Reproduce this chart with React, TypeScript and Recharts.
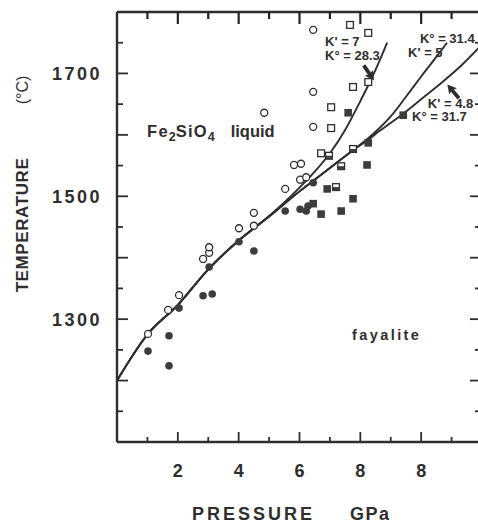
import React from 'react';
import { ComposedChart, XAxis, YAxis, Line, Scatter, ReferenceDot, ReferenceLine, Label } from 'recharts';

const INK = '#2e2e2e';
const FONT = '"Liberation Sans", Arial, Helvetica, sans-serif';

// Melting curves of Fe2SiO4: pressure (GPa) and temperature (°C)
const curveK7P = [0, 1, 2, 3, 4, 5, 5.5, 6, 6.5, 7, 7.5, 8, 8.4, 8.88];
const curveK7T = [1200, 1275, 1323, 1381, 1428, 1468, 1490, 1514, 1540, 1570, 1608, 1655, 1695, 1750];
const curveK5P = [0, 1, 2, 3, 4, 5, 6, 7, 7.76, 8.2, 8.65, 9.0, 9.5, 10.0, 10.5, 10.85];
const curveK5T = [1200, 1275, 1323, 1381, 1428, 1467, 1508, 1546, 1575, 1592, 1612, 1630, 1662, 1695, 1727, 1750];
const curveK48P = [0, 1, 2, 3, 4, 5, 6, 7, 7.76, 8.2, 8.65, 9.4, 10.0, 10.7, 11.3, 11.9];
const curveK48T = [1200, 1275, 1323, 1381, 1428, 1467, 1508, 1546, 1575, 1590, 1607, 1634, 1658, 1686, 1712, 1742];

// Experimental runs [P, T]
const liquidRuns = [
  [1.02, 1276], [1.68, 1315], [2.04, 1339], [2.83, 1398], [3.03, 1408], [3.03, 1417],
  [4.01, 1448], [4.5, 1473], [4.5, 1452], [5.53, 1512], [6.02, 1527], [6.22, 1531],
  [5.82, 1551], [6.05, 1553], [6.45, 1771], [6.45, 1670], [6.45, 1613], [4.84, 1636],
];
const solidRuns = [
  [1.02, 1248], [1.71, 1273], [1.71, 1224], [2.04, 1318], [2.83, 1338], [3.13, 1341],
  [3.03, 1385], [4.01, 1426], [4.5, 1411], [5.53, 1476], [6.02, 1479], [6.22, 1476],
  [6.28, 1484], [6.45, 1522],
];
const liquidSquareRuns = [
  [7.66, 1779], [8.26, 1766], [8.26, 1686], [7.76, 1678], [7.04, 1645], [7.04, 1611], [6.71, 1570],
];
const solidSquareRuns = [
  [7.6, 1636], [9.41, 1632], [8.26, 1587], [8.22, 1551], [6.91, 1512], [7.76, 1496],
  [6.71, 1471], [7.37, 1476], [6.45, 1488],
];
const partialSquareRuns = [[6.97, 1566], [7.76, 1577], [7.37, 1549], [7.2, 1515]];

// Axis ticks and labels
const xTicks = [0, 1, 2, 3, 4, 5, 6, 7, 8, 9, 10, 11, 12];
const xLabelValues = [2, 4, 6, 8, 10];
const xTickLabels = ['2', '4', '6', '8', '8'];
const yTicks = [1100, 1150, 1200, 1250, 1300, 1350, 1400, 1450, 1500, 1550, 1600, 1650, 1700, 1750, 1800];
const yLabelValues = [1300, 1500, 1700];
const yTickLabels = ['1300', '1500', '1700'];
const X_MIN = 0;
const X_MAX = 12;
const T_MIN = 1100;
const T_MAX = 1800;

// Curve annotations
const curveLabels = [
  { text: "K' = 7", P: 6.84, T: 1745 },
  { text: 'K° = 28.3', P: 6.84, T: 1722 },
  { text: 'K° = 31.4', P: 9.96, T: 1750 },
  { text: "K' = 5", P: 9.57, T: 1727 },
  { text: "K' = 4.8", P: 10.22, T: 1644 },
  { text: 'K° = 31.7', P: 9.7, T: 1622 },
];
const arrows = [
  { P: 8.45, T: 1689, angle: 55 },
  { P: 10.86, T: 1682, angle: 230 },
];

// Chart layout
const CHART_W = 500;
const CHART_H = 524;
const MARGIN = { top: 12, right: 17, bottom: 42, left: 57 };
const X_AXIS_H = 40;
const PLOT_H = CHART_H - MARGIN.top - MARGIN.bottom - X_AXIS_H;

const toPts = (P: number[], T: number[]) => P.map((p, i) => ({ P: p, T: T[i] }));
const toRuns = (rows: number[][]) => rows.map(([P, T]) => ({ P, T }));

const isMajorX = (v: number) => v % 2 === 0;
const isMajorY = (v: number) => v % 100 === 0;

// Bottom tick: inward tick on the bottom edge, its twin hanging from the top edge, and the label
const BottomTick = (props: any) => {
  const { x, y, payload } = props;
  const v = payload.value;
  if (v === X_MIN || v === X_MAX) return <g />;
  const i = xLabelValues.indexOf(v);
  const top = y - PLOT_H;
  return (
    <g>
      <line x1={x} x2={x} y1={y} y2={y - (isMajorX(v) ? 10 : 5)} stroke={INK} strokeWidth={1.8} />
      <path d={`M${x},${top} L${x},${top + (isMajorX(v) ? 12 : 7)}`} stroke="#222222" strokeWidth={2.2} fill="none" />
      {i >= 0 && (
        <text x={x} y={y + 35} textAnchor="middle" fontFamily={FONT} fontWeight="bold" fontSize={18} fill={INK}>
          {xTickLabels[i]}
        </text>
      )}
    </g>
  );
};

const LeftTick = (props: any) => {
  const { x, y, payload } = props;
  const v = payload.value;
  if (v === T_MIN || v === T_MAX) return <g />;
  const i = yLabelValues.indexOf(v);
  return (
    <g>
      <line x1={x} x2={x + (isMajorY(v) ? 11 : 6)} y1={y} y2={y} stroke={INK} strokeWidth={1.8} />
      {i >= 0 && (
        <text x={x - 15} y={y + 6.5} textAnchor="end" fontFamily={FONT} fontWeight="bold" fontSize={18}
          letterSpacing={2.5} fill={INK}>
          {yTickLabels[i]}
        </text>
      )}
    </g>
  );
};

const RightTick = (props: any) => {
  const { x, y, payload } = props;
  const v = payload.value;
  if (v === T_MIN || v === T_MAX) return <g />;
  return <line x1={x} x2={x - (isMajorY(v) ? 12 : 7)} y1={y} y2={y} stroke={INK} strokeWidth={1.8} />;
};

const XTitle = (props: any) => {
  const vb = props.viewBox || { x: 117, y: 442 };
  return (
    <g fontFamily={FONT} fontWeight="bold" fontSize={18} fill={INK}>
      <text x={vb.x + 75} y={vb.y + 78} letterSpacing={3}>PRESSURE</text>
      <text x={vb.x + 233} y={vb.y + 78} letterSpacing={1.5}>GPa</text>
    </g>
  );
};

const YTitle = (props: any) => {
  const vb = props.viewBox || { x: 57, y: 12 };
  const cx = vb.x - 35;
  return (
    <g fontFamily={FONT} fontWeight="bold" fontSize={17} fill={INK}>
      <text transform={`translate(${cx + 6}, ${vb.y + 213}) rotate(-90)`} textAnchor="middle" letterSpacing={0.6}>
        TEMPERATURE
      </text>
      <text transform={`translate(${cx + 6}, ${vb.y + 78}) rotate(-90)`} textAnchor="middle" fontWeight="normal" fontSize={16}>
        (°C)
      </text>
    </g>
  );
};

const openCircle = (p: any) => (
  <circle cx={p.cx} cy={p.cy} r={3.5} fill="#fff" stroke={INK} strokeWidth={1.3} />
);
const filledCircle = (p: any) => <circle cx={p.cx} cy={p.cy} r={3.8} fill="#3c3c3c" />;
const openSquare = (p: any) => (
  <rect x={p.cx - 3.4} y={p.cy - 3.4} width={6.8} height={6.8} fill="#fff" stroke={INK} strokeWidth={1.3} />
);
const filledSquare = (p: any) => <rect x={p.cx - 3.8} y={p.cy - 3.8} width={7.6} height={7.6} fill="#3c3c3c" />;
const partialSquare = (p: any) => (
  <g>
    <rect x={p.cx - 3.4} y={p.cy - 3.4} width={6.8} height={6.8} fill="#fff" stroke={INK} strokeWidth={1.3} />
    <rect x={p.cx - 3.4} y={p.cy} width={6.8} height={3.4} fill="#3c3c3c" />
  </g>
);

const arrowShape = (angle: number) => (p: any) => (
  <polygon
    transform={`translate(${p.cx}, ${p.cy}) rotate(${angle})`}
    points="0,0 -9,-5 -8,-1.9 -18,-1.9 -18,1.9 -8,1.9 -9,5"
    fill={INK}
  />
);

const textShape = (text: string) => (p: any) => (
  <text x={p.cx} y={p.cy} fontFamily={FONT} fontWeight="bold" fontSize={13} fill={INK}>
    {text}
  </text>
);

const liquidLabel = (p: any) => (
  <text x={p.cx} y={p.cy} fontFamily={FONT} fontWeight="bold" fontSize={16.5} fill={INK}>
    <tspan letterSpacing={1.2}>Fe</tspan>
    <tspan dy={4} fontSize={12.5}>2</tspan>
    <tspan dy={-4} letterSpacing={1.2}>SiO</tspan>
    <tspan dy={4} fontSize={12.5}>4</tspan>
    <tspan dy={-4} dx={16}>liquid</tspan>
  </text>
);

const solidLabel = (p: any) => (
  <text x={p.cx} y={p.cy} fontFamily={FONT} fontWeight="bold" fontSize={14.5} letterSpacing={2.4} fill={INK}>
    fayalite
  </text>
);

export default function App() {
  const lineProps = {
    xAxisId: 'b', yAxisId: 'l', type: 'monotone' as const, dataKey: 'T', stroke: INK,
    strokeWidth: 1.9, dot: false, activeDot: false, isAnimationActive: false,
  };
  return (
    <div style={{ position: 'absolute', left: 0, top: 0, width: 478, height: CHART_H, overflow: 'hidden', background: '#fff' }}>
      <ComposedChart width={CHART_W} height={CHART_H} margin={MARGIN}>
        {/* top edge of the frame */}
        <ReferenceLine xAxisId="b" yAxisId="l" y={T_MAX} stroke={INK} strokeWidth={2.4} />

        <Line {...lineProps} data={toPts(curveK7P, curveK7T)} />
        <Line {...lineProps} data={toPts(curveK5P, curveK5T)} />
        <Line {...lineProps} data={toPts(curveK48P, curveK48T)} />

        <Scatter xAxisId="b" yAxisId="l" data={toRuns(liquidRuns)} shape={openCircle} isAnimationActive={false} />
        <Scatter xAxisId="b" yAxisId="l" data={toRuns(solidRuns)} shape={filledCircle} isAnimationActive={false} />
        <Scatter xAxisId="b" yAxisId="l" data={toRuns(liquidSquareRuns)} shape={openSquare} isAnimationActive={false} />
        <Scatter xAxisId="b" yAxisId="l" data={toRuns(solidSquareRuns)} shape={filledSquare} isAnimationActive={false} />
        <Scatter xAxisId="b" yAxisId="l" data={toRuns(partialSquareRuns)} shape={partialSquare} isAnimationActive={false} />

        {curveLabels.map((l) => (
          <ReferenceDot key={l.text} xAxisId="b" yAxisId="l" x={l.P} y={l.T} r={0} shape={textShape(l.text)} />
        ))}
        {arrows.map((a, i) => (
          <ReferenceDot key={`arrow-${i}`} xAxisId="b" yAxisId="l" x={a.P} y={a.T} r={0} shape={arrowShape(a.angle)} />
        ))}
        <ReferenceDot xAxisId="b" yAxisId="l" x={0.99} y={1596} r={0} shape={liquidLabel} />
        <ReferenceDot xAxisId="b" yAxisId="l" x={7.73} y={1266} r={0} shape={solidLabel} />

        <XAxis xAxisId="b" orientation="bottom" type="number" dataKey="P" domain={[X_MIN, X_MAX]} ticks={xTicks}
          height={X_AXIS_H} tickLine={false} tickSize={0} tickMargin={0} tick={<BottomTick />}
          axisLine={{ stroke: INK, strokeWidth: 2.4 }} allowDataOverflow interval={0}>
          <Label content={<XTitle />} />
        </XAxis>
        <YAxis yAxisId="l" orientation="left" type="number" dataKey="T" domain={[T_MIN, T_MAX]} ticks={yTicks}
          width={60} tickLine={false} tickSize={0} tickMargin={0} tick={<LeftTick />}
          axisLine={{ stroke: INK, strokeWidth: 2.4 }} allowDataOverflow interval={0}>
          <Label content={<YTitle />} />
        </YAxis>
        <YAxis yAxisId="r" orientation="right" type="number" dataKey="T" domain={[T_MIN, T_MAX]} ticks={yTicks}
          width={1} tickLine={false} tickSize={0} tickMargin={0} tick={<RightTick />}
          axisLine={{ stroke: INK, strokeWidth: 2.4 }} allowDataOverflow interval={0} />
      </ComposedChart>
    </div>
  );
}
